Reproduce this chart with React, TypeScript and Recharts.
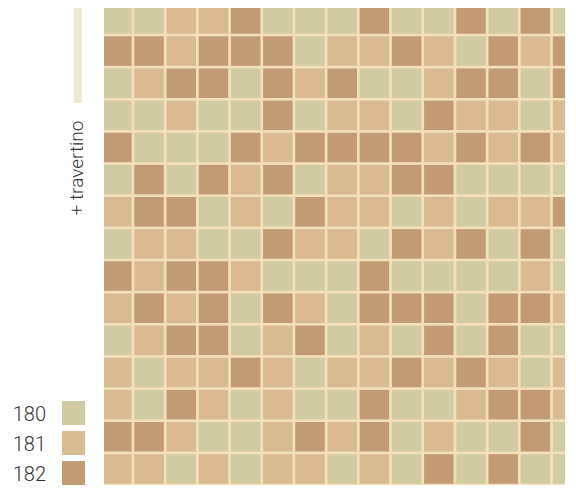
import { ScatterChart, Scatter, XAxis, YAxis, CartesianGrid } from "recharts";

// tile codes per row, top to bottom (A = 180, B = 181, C = 182)
const ROW_01 = "AABBCAAACAACACA";
const ROW_02 = "CCBCCCABBCBACBC";
const ROW_03 = "ABCCACBCAABCCAC";
const ROW_04 = "AABAACABBACBBAB";
const ROW_05 = "CAAACBCCCCBCBCB";
const ROW_06 = "ACACBCABBCCAAAA";
const ROW_07 = "BCCABACBBABABBC";
const ROW_08 = "ABBAACBBACBCACA";
const ROW_09 = "CBCCBAAACAAAABA";
const ROW_10 = "BCBCACBACCCACCB";
const ROW_11 = "ABCCABCABACACAA";
const ROW_12 = "BABBCBABBCBCBAB";
const ROW_13 = "BACBABAACAABCCB";
const ROW_14 = "CCBAABCBCABAACA";
const ROW_15 = "BBABABBABACACAA";

const ROWS = [
  ROW_01, ROW_02, ROW_03, ROW_04, ROW_05, ROW_06, ROW_07, ROW_08,
  ROW_09, ROW_10, ROW_11, ROW_12, ROW_13, ROW_14, ROW_15,
];

const CODES = ["180", "181", "182"];
const LETTERS = ["A", "B", "C"];

const TILE_COLORS: { [key: string]: string } = {
  "180": "#d1cba1",
  "181": "#d8bb91",
  "182": "#c19b74",
};

const GROUT = "#f3e0b9";
const TILE = 29.5;

const W = 576;
const H = 488;

const seriesFor = (letter: string) => {
  const pts: { x: number; y: number }[] = [];
  ROWS.forEach((row, r) => {
    row.split("").forEach((c, col) => {
      if (c === letter) pts.push({ x: col + 0.5, y: r + 0.5 });
    });
  });
  return pts;
};

const Tile = (props: any) => {
  const { cx, cy, fill } = props;
  if (cx == null || cy == null) return null;
  return (
    <rect x={cx - TILE / 2} y={cy - TILE / 2} width={TILE} height={TILE} fill={fill} />
  );
};

export default function App() {
  return (
    <div
      style={{
        position: "absolute",
        left: 0,
        top: 0,
        width: W,
        height: H,
        background: "#fff",
        fontFamily: "Roboto, sans-serif",
      }}
    >
      <ScatterChart
        width={W}
        height={H}
        margin={{ top: 8, right: 11, bottom: 3, left: 104 }}
      >
        <CartesianGrid fill={GROUT} stroke="none" />
        <XAxis
          type="number"
          dataKey="x"
          domain={[0.1, 14.42]}
          allowDataOverflow
          hide
        />
        <YAxis
          type="number"
          dataKey="y"
          domain={[0.16, 15]}
          reversed
          allowDataOverflow
          hide
        />
        {CODES.map((code, i) => (
          <Scatter
            key={code}
            name={code}
            data={seriesFor(LETTERS[i])}
            fill={TILE_COLORS[code]}
            shape={<Tile />}
            isAnimationActive={false}
          />
        ))}
      </ScatterChart>

      {/* side label */}
      <div
        style={{
          position: "absolute",
          left: 74,
          top: 8,
          width: 8,
          height: 95,
          background: "#f1e5d6",
        }}
      />
      <div
        style={{
          position: "absolute",
          left: 17,
          top: 158,
          width: 120,
          height: 20,
          lineHeight: "20px",
          textAlign: "center",
          fontSize: 19,
          fontWeight: 300,
          color: "#333",
          transform: "rotate(-90deg)",
          whiteSpace: "nowrap",
        }}
      >
        + travertino
      </div>

      {/* legend */}
      {CODES.map((code, i) => (
        <div
          key={code}
          style={{
            position: "absolute",
            left: 0,
            top: 401 + i * 30,
            width: 86,
            height: 24,
            display: "flex",
            alignItems: "center",
          }}
        >
          <span
            style={{
              width: 46,
              textAlign: "right",
              fontSize: 20,
              fontWeight: 300,
              color: "#333",
              lineHeight: "24px",
              paddingTop: 2,
            }}
          >
            {code}
          </span>
          <span
            style={{
              marginLeft: 16,
              width: 23,
              height: 24,
              background: TILE_COLORS[code],
            }}
          />
        </div>
      ))}
    </div>
  );
}
